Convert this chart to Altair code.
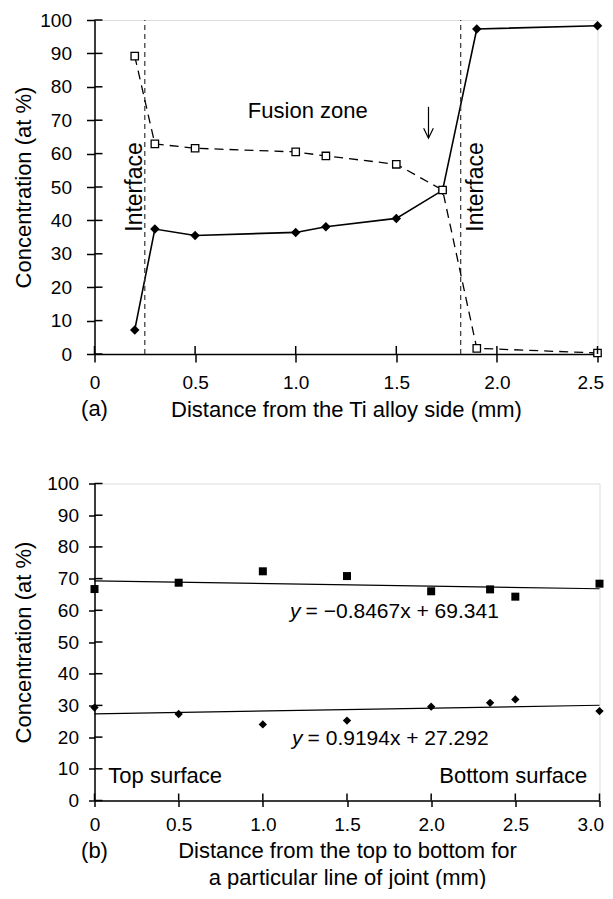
import altair as alt
import pandas as pd

FONT = "Liberation Sans"

# ---------- panel (a) ----------
a_x = [0.2, 0.3, 0.5, 1.0, 1.15, 1.5, 1.73, 1.9, 2.5]
a_diamond = [7.2, 37.4, 35.5, 36.4, 38.1, 40.6, 49.0, 97.3, 98.3]
a_square = [89.2, 62.9, 61.6, 60.5, 59.3, 56.8, 49.1, 1.7, 0.3]
a_interface_x = [0.25, 1.82]
a_xticks = [0, 0.5, 1.0, 1.5, 2.0, 2.5]
y_ticks = [0, 10, 20, 30, 40, 50, 60, 70, 80, 90, 100]

a_text_x = [1.06]
a_text_y = [72.8]
a_text = ["Fusion zone"]
a_vtext_x = [0.2, 1.897]
a_vtext_y = [50.0, 50.0]
a_vtext = ["Interface", "Interface"]
a_arrow_x = [1.66]
a_arrow_y = [74.0]
a_arrow_y2 = [64.8]
a_head_x = [1.636, 1.66, 1.684]
a_head_y = [67.6, 64.6, 67.6]

# ---------- panel (b) ----------
b_x = [0, 0.5, 1.0, 1.5, 2.0, 2.35, 2.5, 3.0]
b_square = [66.7, 68.7, 72.3, 70.8, 66.0, 66.6, 64.3, 68.4]
b_diamond = [29.3, 27.3, 24.0, 25.2, 29.6, 30.8, 31.9, 28.2]
b_trend_x = [0, 3.0]
b_trend_square = [69.3, 66.8]
b_trend_diamond = [27.3, 30.05]
b_xticks = [0, 0.5, 1.0, 1.5, 2.0, 2.5, 3.0]

b_text_x = [0.42, 2.488]
b_text_y = [7.8, 7.8]
b_text = ["Top surface", "Bottom surface"]
b_eq_x = [1.254, 1.266]
b_eq_y = [59.4, 19.5]
b_eq = ["= \u22120.8467x + 69.341", "= 0.9194x + 27.292"]

WA, HA = 503, 334
WB, HB = 505, 317

label_expr = "datum.value == 0 ? '0' : format(datum.value, '.1f')"

common = dict(grid=False, labelFontSize=19, titleFontSize=22, titleFontWeight="normal",
              labelFont=FONT, titleFont=FONT, labelColor="black", titleColor="black",
              domainColor="black", tickColor="black", domainWidth=1.5, tickWidth=1.5,
              labelFlush=False, labelOverlap=False, labelBound=False)


def x_axis(values, last, shift, title, tick, lpad, tpad, lh=None):
    test = "datum.value == %s" % last
    kw = dict(values=values, labelExpr=label_expr, title=title,
              tickSize=tick, labelPadding=lpad, titlePadding=tpad,
              labelAlign={"condition": {"test": test, "value": "right"}, "value": "center"},
              labelOffset={"condition": {"test": test, "value": shift}, "value": 0},
              **common)
    if lh:
        kw["titleLineHeight"] = lh
    return alt.Axis(**kw)


def y_axis(tick, lpad, tpad):
    return alt.Axis(values=y_ticks, title="Concentration (at %)",
                    tickSize=tick, labelPadding=lpad, titlePadding=tpad, **common)


ys = alt.Scale(domain=[0, 100], nice=False)

# ----- top chart -----
xs_a = alt.Scale(domain=[0, 2.5], nice=False)
ax_xa = x_axis(a_xticks, 2.5, 6, "Distance from the Ti alloy side (mm)", 8, 11, 7)
ax_ya = y_axis(8, 15, 4)


def XA(f):
    return alt.X(f, scale=xs_a, axis=ax_xa)


def YA(f):
    return alt.Y(f, scale=ys, axis=ax_ya)


df_a = pd.DataFrame({"x": a_x, "dia": a_diamond, "sq": a_square})
base_a = alt.Chart(df_a)

line_dia = base_a.mark_line(color="black", strokeWidth=1.6).encode(x=XA("x:Q"), y=YA("dia:Q"))
ifc = alt.Chart(pd.DataFrame({"x": a_interface_x, "y0": [0, 0], "y1": [100, 100]})).mark_rule(
    color="#333333", strokeDash=[5, 4], strokeWidth=1.2
).encode(x=XA("x:Q"), y=YA("y0:Q"), y2="y1:Q")
line_sq = base_a.mark_line(color="black", strokeWidth=1.3, strokeDash=[9, 6]).encode(
    x=XA("x:Q"), y=YA("sq:Q"))
pts_dia = base_a.mark_point(shape="diamond", filled=True, color="black", size=90, opacity=1).encode(
    x=XA("x:Q"), y=YA("dia:Q"))
pts_sq = base_a.mark_point(shape="square", filled=True, fill="white", stroke="black",
                           strokeWidth=1.3, size=55, opacity=1).encode(x=XA("x:Q"), y=YA("sq:Q"))

inner_y_a = alt.Chart(pd.DataFrame({"v": y_ticks})).mark_rule(color="black", strokeWidth=1.5).encode(
    y=YA("v:Q"), x=alt.value(0), x2=alt.value(8))
inner_x_a = alt.Chart(pd.DataFrame({"v": a_xticks})).mark_rule(color="black", strokeWidth=1.5).encode(
    x=XA("v:Q"), y=alt.value(HA), y2=alt.value(HA - 8))

txt_a = alt.Chart(pd.DataFrame({"x": a_text_x, "y": a_text_y, "t": a_text})).mark_text(
    font=FONT, fontSize=22, color="black", baseline="middle").encode(
    x=XA("x:Q"), y=YA("y:Q"), text="t:N")
vtxt_a = alt.Chart(pd.DataFrame({"x": a_vtext_x, "y": a_vtext_y, "t": a_vtext})).mark_text(
    font=FONT, fontSize=23, color="black", baseline="middle", angle=270).encode(
    x=XA("x:Q"), y=YA("y:Q"), text="t:N")
arrow = alt.Chart(pd.DataFrame({"x": a_arrow_x, "y": a_arrow_y, "y2": a_arrow_y2})).mark_rule(
    color="black", strokeWidth=1.2).encode(x=XA("x:Q"), y=YA("y:Q"), y2="y2:Q")
head = alt.Chart(pd.DataFrame({"x": a_head_x, "y": a_head_y, "o": [0, 1, 2]})).mark_line(
    color="black", strokeWidth=1.2).encode(x=XA("x:Q"), y=YA("y:Q"), order="o:Q")
lab_a = alt.Chart(pd.DataFrame({"x": [0.0], "y": [-16.5], "t": ["(a)"]})).mark_text(
    font=FONT, fontSize=22, color="black", baseline="middle").encode(
    x=XA("x:Q"), y=YA("y:Q"), text="t:N")

top = alt.layer(line_dia, ifc, line_sq, pts_dia, pts_sq, inner_y_a, inner_x_a,
                txt_a, vtxt_a, arrow, head, lab_a).properties(width=WA, height=HA)

# ----- bottom chart -----
xs_b = alt.Scale(domain=[0, 3.0], nice=False)
ax_xb = x_axis(b_xticks, 3, 4, ["Distance from the top to bottom for", "a particular line of joint (mm)"],
               6, 8.5, 6.5, 27)
ax_yb = y_axis(6, 10, 11.5)


def XB(f):
    return alt.X(f, scale=xs_b, axis=ax_xb)


def YB(f):
    return alt.Y(f, scale=ys, axis=ax_yb)


df_b = pd.DataFrame({"x": b_x, "sq": b_square, "dia": b_diamond})
df_bt = pd.DataFrame({"x": b_trend_x, "sq": b_trend_square, "dia": b_trend_diamond})

trend_sq = alt.Chart(df_bt).mark_line(color="black", strokeWidth=1.2).encode(x=XB("x:Q"), y=YB("sq:Q"))
trend_dia = alt.Chart(df_bt).mark_line(color="black", strokeWidth=1.2).encode(x=XB("x:Q"), y=YB("dia:Q"))
pts_bsq = alt.Chart(df_b).mark_point(shape="square", filled=True, color="black", size=64, opacity=1).encode(
    x=XB("x:Q"), y=YB("sq:Q"))
pts_bdia = alt.Chart(df_b).mark_point(shape="diamond", filled=True, color="black", size=70, opacity=1).encode(
    x=XB("x:Q"), y=YB("dia:Q"))

inner_y_b = alt.Chart(pd.DataFrame({"v": y_ticks})).mark_rule(color="black", strokeWidth=1.5).encode(
    y=YB("v:Q"), x=alt.value(0), x2=alt.value(8))
inner_x_b = alt.Chart(pd.DataFrame({"v": b_xticks})).mark_rule(color="black", strokeWidth=1.5).encode(
    x=XB("v:Q"), y=alt.value(HB), y2=alt.value(HB - 7))

txt_b = alt.Chart(pd.DataFrame({"x": b_text_x, "y": b_text_y, "t": b_text})).mark_text(
    font=FONT, fontSize=22, color="black", baseline="middle").encode(
    x=XB("x:Q"), y=YB("y:Q"), text="t:N")
df_eq = pd.DataFrame({"x": b_eq_x, "y": b_eq_y, "t": b_eq, "v": ["y", "y"]})
eq_rest = alt.Chart(df_eq).mark_text(font=FONT, fontSize=21, color="black", baseline="middle",
                                     align="left").encode(x=XB("x:Q"), y=YB("y:Q"), text="t:N")
eq_y = alt.Chart(df_eq).mark_text(font=FONT, fontSize=21, color="black", baseline="middle",
                                  align="right", fontStyle="italic", dx=-5).encode(
    x=XB("x:Q"), y=YB("y:Q"), text="v:N")
lab_b = alt.Chart(pd.DataFrame({"x": [0.0], "y": [-15.8], "t": ["(b)"]})).mark_text(
    font=FONT, fontSize=22, color="black", baseline="middle").encode(
    x=XB("x:Q"), y=YB("y:Q"), text="t:N")

bottom = alt.layer(trend_sq, trend_dia, pts_bsq, pts_bdia, inner_y_b, inner_x_b,
                   txt_b, eq_rest, eq_y, lab_b).properties(width=WB, height=HB)

chart = alt.vconcat(
    top, bottom, spacing=52.5,
    padding={"left": 3.5, "top": 2, "right": 0, "bottom": 0}
).configure_view(
    stroke="black", strokeWidth=1.5
).configure_axis(
    labelOverlap=False
).configure(font=FONT)

chart.save("out.html", embed_options={"renderer": "svg", "actions": False})
